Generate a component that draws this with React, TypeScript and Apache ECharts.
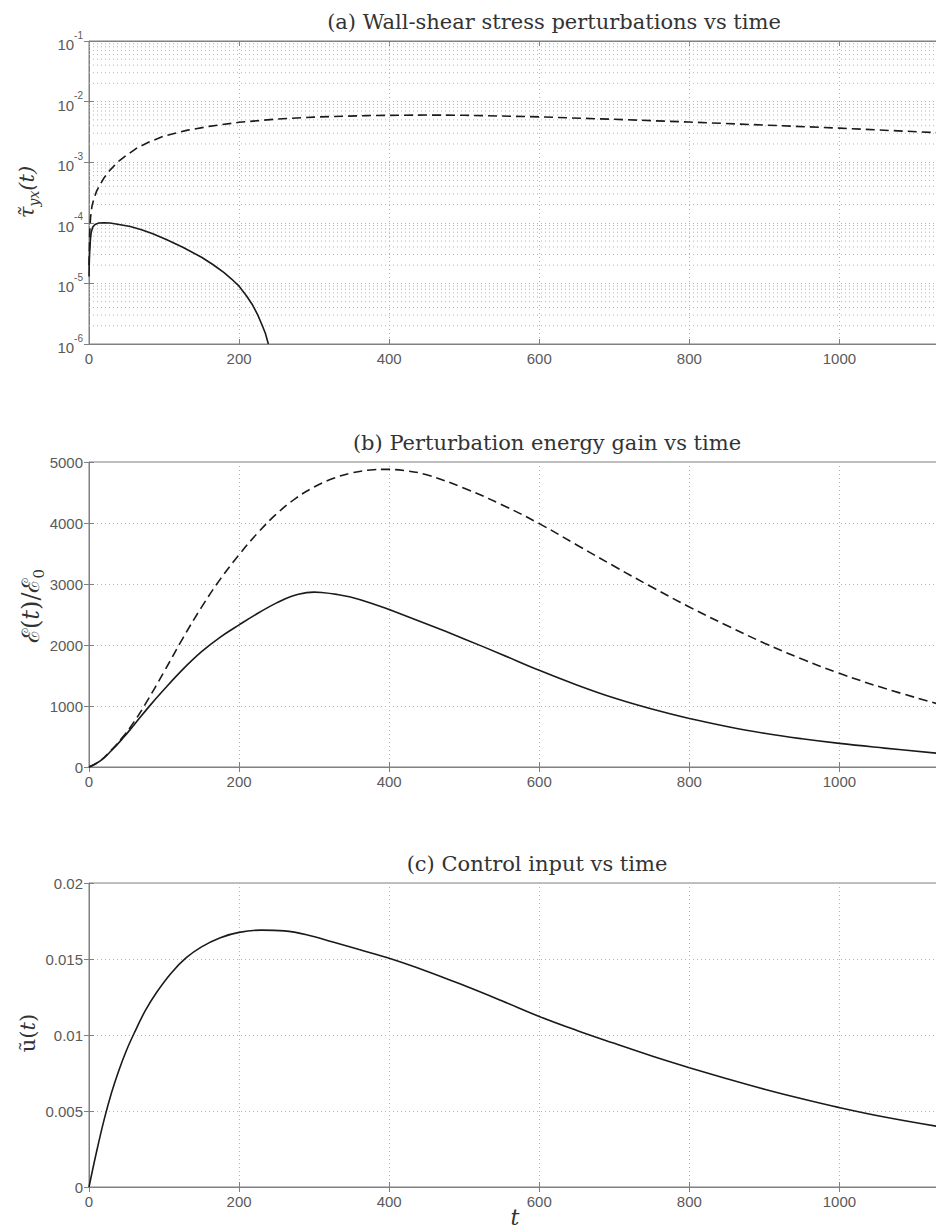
import React, { useEffect, useRef } from "react";
import * as echarts from "echarts";

// ---------- data ----------
const xTickLabels = [0, 200, 400, 600, 800, 1000];

// (a) wall-shear stress perturbations (log scale)
const tauDashedT = [0, 1, 2, 4, 7, 10, 14, 20, 28, 38, 50, 65, 80, 100, 130, 160, 200, 250, 300, 370, 450, 500, 600, 700, 800, 900, 1000, 1130];
const tauDashedV = [2e-5, 7e-5, 1.2e-4, 1.9e-4, 2.6e-4, 3.3e-4, 4.1e-4, 5.5e-4, 7.4e-4, 1e-3, 1.3e-3, 1.75e-3, 2.15e-3, 2.7e-3, 3.35e-3, 3.9e-3, 4.55e-3, 5.15e-3, 5.55e-3, 5.88e-3, 6.0e-3, 5.95e-3, 5.6e-3, 5.1e-3, 4.6e-3, 4.1e-3, 3.65e-3, 3.07e-3];
const tauSolidT = [0, 0.5, 1, 2, 3, 5, 8, 13, 20, 28, 40, 55, 70, 85, 103, 125, 150, 165, 180, 190, 200, 210, 218, 225, 231, 235, 239];
const tauSolidV = [1.3e-5, 2.5e-5, 3.5e-5, 5.5e-5, 7e-5, 8.5e-5, 9.4e-5, 9.9e-5, 1.0e-4, 9.9e-5, 9.4e-5, 8.7e-5, 7.7e-5, 6.6e-5, 5.3e-5, 3.95e-5, 2.7e-5, 2.05e-5, 1.5e-5, 1.18e-5, 9e-6, 6.2e-6, 4.4e-6, 3e-6, 2e-6, 1.5e-6, 1e-6];
const logMinorGrid = [
  2e-6, 3e-6, 4e-6, 5e-6, 6e-6, 7e-6, 8e-6, 9e-6,
  2e-5, 3e-5, 4e-5, 5e-5, 6e-5, 7e-5, 8e-5, 9e-5,
  2e-4, 3e-4, 4e-4, 5e-4, 6e-4, 7e-4, 8e-4, 9e-4,
  2e-3, 3e-3, 4e-3, 5e-3, 6e-3, 7e-3, 8e-3, 9e-3,
  2e-2, 3e-2, 4e-2, 5e-2, 6e-2, 7e-2, 8e-2, 9e-2,
];

// (b) perturbation energy gain
const energyDashedT = [0, 15, 30, 45, 60, 75, 100, 125, 150, 175, 200, 225, 250, 275, 300, 325, 350, 375, 395, 420, 450, 500, 550, 600, 650, 700, 750, 800, 850, 900, 950, 1000, 1060, 1130];
const energyDashedV = [0, 100, 280, 490, 740, 1030, 1560, 2110, 2620, 3080, 3480, 3840, 4150, 4400, 4590, 4730, 4820, 4870, 4880, 4860, 4790, 4570, 4300, 3990, 3640, 3290, 2950, 2623, 2320, 2030, 1770, 1535, 1290, 1039];
const energySolidT = [0, 15, 30, 45, 60, 80, 100, 125, 150, 175, 200, 225, 250, 270, 290, 300, 310, 330, 347, 375, 400, 450, 500, 550, 600, 650, 700, 750, 800, 850, 900, 950, 1000, 1060, 1130];
const energySolidV = [0, 100, 270, 470, 690, 990, 1270, 1600, 1890, 2130, 2330, 2520, 2690, 2800, 2858, 2866, 2860, 2830, 2790, 2690, 2580, 2345, 2100, 1845, 1585, 1345, 1130, 950, 795, 665, 553, 463, 387, 310, 225];

// (c) control input
const controlT = [0, 10, 20, 30, 40, 50, 60, 75, 90, 110, 130, 150, 175, 200, 230, 260, 290, 325, 360, 400, 450, 500, 550, 600, 650, 700, 750, 800, 850, 900, 950, 1000, 1060, 1130];
const controlV = [0, 0.0023, 0.0044, 0.0062, 0.0077, 0.009, 0.0101, 0.0116, 0.0128, 0.0141, 0.0151, 0.0158, 0.0164, 0.01675, 0.0169, 0.01685, 0.0166, 0.01612, 0.01562, 0.01505, 0.0142, 0.01325, 0.01225, 0.01122, 0.0103, 0.00945, 0.00862, 0.00785, 0.00712, 0.00643, 0.0058, 0.00522, 0.0046, 0.00399];

const zip = (t: number[], v: number[]) => t.map((x, i) => [x, v[i]]);

// ---------- styles ----------
const AXIS = "#808080";
const LABEL = "#5a5a5a";
const GRIDC = "#b4b4b4";
const LINE = "#1a1a1a";
const SANS = "'Liberation Sans', Arial, Helvetica, sans-serif";
const SERIF = "'DejaVu Serif', serif";
const X_MAX = 1130;

const gridRects = [
  { top: 41, height: 303 },
  { top: 462, height: 305 },
  { top: 883, height: 304 },
];

export default function App() {
  const ref = useRef<HTMLDivElement>(null);
  useEffect(() => {
    if (!ref.current) return;
    const chart = echarts.init(ref.current, undefined, { renderer: "svg" });

    const xAxes: any[] = [];
    gridRects.forEach((_, i) => {
      xAxes.push({
        gridIndex: i,
        type: "value",
        min: 0,
        max: X_MAX,
        interval: 200,
        position: "bottom",
        axisLine: { lineStyle: { color: AXIS, width: 1 } },
        axisTick: { inside: true, length: 5, lineStyle: { color: AXIS } },
        axisLabel: {
          color: LABEL,
          fontSize: 15,
          fontFamily: SANS,
          margin: 7,
          showMaxLabel: false,
          formatter: (v: number) => (xTickLabels.includes(v) ? String(v) : ""),
        },
        splitLine: { show: true, lineStyle: { color: GRIDC, type: [1, 3], width: 1 } },
      });
      xAxes.push({
        gridIndex: i,
        type: "value",
        min: 0,
        max: X_MAX,
        interval: 200,
        position: "top",
        axisLine: { lineStyle: { color: AXIS, width: 1 } },
        axisTick: { inside: true, length: 5, lineStyle: { color: AXIS } },
        axisLabel: { show: false },
        splitLine: { show: false },
      });
    });

    const yLabelCommon = { color: LABEL, fontSize: 15, fontFamily: SANS, margin: 6 };
    const rightTicks = { position: "right", axisLine: { show: false }, axisTick: { inside: true, length: 5, lineStyle: { color: AXIS } }, axisLabel: { show: false }, splitLine: { show: false } };
    const yAxes: any[] = [
      {
        gridIndex: 0,
        type: "log",
        logBase: 10,
        min: 1e-6,
        max: 1e-1,
        axisLine: { lineStyle: { color: AXIS } },
        axisTick: { inside: true, length: 5, lineStyle: { color: AXIS } },
        axisLabel: {
          ...yLabelCommon,
          formatter: (v: number) => `{b|10}{e|${Math.round(Math.log10(v))}}`,
          rich: {
            b: { fontSize: 15, fontFamily: SANS, color: LABEL, lineHeight: 22, verticalAlign: "bottom" },
            e: { fontSize: 10, fontFamily: SANS, color: LABEL, lineHeight: 22, verticalAlign: "top" },
          },
        },
        splitLine: { show: true, lineStyle: { color: GRIDC, type: [1, 3] } },
      },
      {
        gridIndex: 1,
        type: "value",
        min: 0,
        max: 5000,
        interval: 1000,
        axisLine: { lineStyle: { color: AXIS } },
        axisTick: { inside: true, length: 5, lineStyle: { color: AXIS } },
        axisLabel: { ...yLabelCommon, formatter: (v: number) => String(v) },
        splitLine: { show: true, lineStyle: { color: GRIDC, type: [1, 3] } },
      },
      {
        gridIndex: 2,
        type: "value",
        min: 0,
        max: 0.02,
        interval: 0.005,
        axisLine: { lineStyle: { color: AXIS } },
        axisTick: { inside: true, length: 5, lineStyle: { color: AXIS } },
        axisLabel: { ...yLabelCommon, formatter: (v: number) => String(parseFloat(v.toFixed(4))) },
        splitLine: { show: true, lineStyle: { color: GRIDC, type: [1, 3] } },
      },
      { gridIndex: 0, type: "log", logBase: 10, min: 1e-6, max: 1e-1, ...rightTicks },
      { gridIndex: 1, type: "value", min: 0, max: 5000, interval: 1000, ...rightTicks },
      { gridIndex: 2, type: "value", min: 0, max: 0.02, interval: 0.005, ...rightTicks },
    ];

    const lineBase = { type: "line", showSymbol: false, symbol: "none", silent: true, smooth: false, clip: true };

    const minorSeries = logMinorGrid.map((v) => ({
      ...lineBase,
      name: "minor",
      xAxisIndex: 0,
      yAxisIndex: 0,
      z: 1,
      data: [[0, v], [X_MAX, v]],
      lineStyle: { color: GRIDC, width: 1, type: [1, 3] },
    }));

    const option: any = {
      animation: false,
      backgroundColor: "#ffffff",
      grid: gridRects.map((g) => ({
        left: 89,
        width: 848,
        top: g.top,
        height: g.height,
        show: true,
        borderColor: AXIS,
        borderWidth: 1,
        backgroundColor: "transparent",
      })),
      xAxis: xAxes,
      yAxis: yAxes,
      series: [
        ...minorSeries,
        {
          ...lineBase,
          name: "tau controlled",
          xAxisIndex: 0,
          yAxisIndex: 0,
          z: 3,
          data: zip(tauSolidT, tauSolidV),
          lineStyle: { color: LINE, width: 1.6 },
        },
        {
          ...lineBase,
          name: "tau uncontrolled",
          xAxisIndex: 0,
          yAxisIndex: 0,
          z: 3,
          data: zip(tauDashedT, tauDashedV),
          lineStyle: { color: LINE, width: 1.6, type: [9, 5] },
        },
        {
          ...lineBase,
          name: "energy controlled",
          xAxisIndex: 2,
          yAxisIndex: 1,
          smooth: 0.4,
          data: zip(energySolidT, energySolidV),
          lineStyle: { color: LINE, width: 1.6 },
        },
        {
          ...lineBase,
          name: "energy uncontrolled",
          xAxisIndex: 2,
          yAxisIndex: 1,
          smooth: 0.4,
          data: zip(energyDashedT, energyDashedV),
          lineStyle: { color: LINE, width: 1.6, type: [9, 5] },
        },
        {
          ...lineBase,
          name: "control input",
          xAxisIndex: 4,
          yAxisIndex: 2,
          smooth: 0.4,
          data: zip(controlT, controlV),
          lineStyle: { color: LINE, width: 1.6 },
        },
      ],
      graphic: [
        { type: "text", x: 554, y: 22, style: { text: "(a) Wall-shear stress perturbations vs time", fontSize: 21, fontFamily: SERIF, fill: "#333", align: "center", verticalAlign: "middle" } },
        { type: "text", x: 547, y: 443, style: { text: "(b) Perturbation energy gain vs time", fontSize: 21, fontFamily: SERIF, fill: "#333", align: "center", verticalAlign: "middle" } },
        { type: "text", x: 537, y: 864, style: { text: "(c) Control input vs time", fontSize: 21, fontFamily: SERIF, fill: "#333", align: "center", verticalAlign: "middle" } },
        {
          type: "text", x: 27, y: 192, rotation: Math.PI / 2,
          style: {
            text: "{i|τ̃}{s|yx}{i|(t)}", align: "center", verticalAlign: "middle", fill: "#333",
            rich: {
              i: { fontSize: 21, fontFamily: SERIF, fontStyle: "italic", fill: "#333", lineHeight: 28, verticalAlign: "middle" },
              s: { fontSize: 14, fontFamily: SERIF, fontStyle: "italic", fill: "#333", lineHeight: 16, verticalAlign: "bottom" },
            },
          },
        },
        {
          type: "text", x: 31, y: 606, rotation: Math.PI / 2,
          style: {
            text: "{n|ℰ(}{i|t}{n|)/ℰ}{s|0}", align: "center", verticalAlign: "middle", fill: "#333",
            rich: {
              n: { fontSize: 24, fontFamily: SERIF, fill: "#333", lineHeight: 30, verticalAlign: "middle" },
              i: { fontSize: 24, fontFamily: SERIF, fontStyle: "italic", fill: "#333", lineHeight: 30, verticalAlign: "middle" },
              s: { fontSize: 15, fontFamily: SERIF, fill: "#333", lineHeight: 17, verticalAlign: "bottom" },
            },
          },
        },
        {
          type: "text", x: 28, y: 1033, rotation: Math.PI / 2,
          style: {
            text: "{n|ũ(}{i|t}{n|)}", align: "center", verticalAlign: "middle", fill: "#333",
            rich: {
              n: { fontSize: 21, fontFamily: SERIF, fill: "#333", lineHeight: 26, verticalAlign: "middle" },
              i: { fontSize: 21, fontFamily: SERIF, fontStyle: "italic", fill: "#333", lineHeight: 26, verticalAlign: "middle" },
            },
          },
        },
        { type: "text", x: 515, y: 1217, style: { text: "t", fontSize: 22, fontFamily: SERIF, fontStyle: "italic", fill: "#333", align: "center", verticalAlign: "middle" } },
      ],
    };

    chart.setOption(option);
    return () => chart.dispose();
  }, []);

  return (
    <div style={{ position: "fixed", left: 0, top: 0, width: 936, height: 1228, overflow: "hidden", background: "#fff" }}>
      <div ref={ref} style={{ width: 940, height: 1228 }} />
    </div>
  );
}
